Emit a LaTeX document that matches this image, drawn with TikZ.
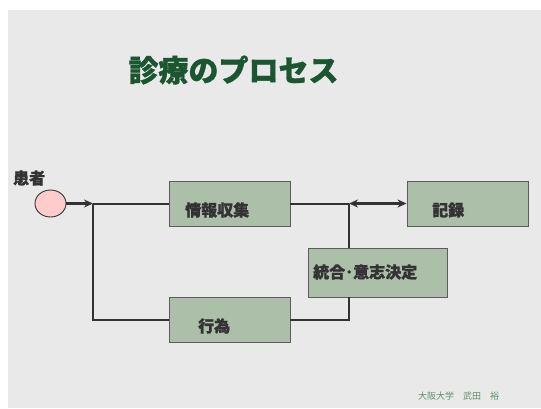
\documentclass[tikz,border=0pt]{standalone}
\usepackage{fontspec}
\newfontfamily\jp{Noto Sans CJK JP}[BoldFeatures={FakeBold=1}]
\usetikzlibrary{arrows.meta,shapes.geometric}
\definecolor{bgc}{HTML}{E9E9E9}
\definecolor{boxc}{HTML}{ABBFA9}
\definecolor{linec}{HTML}{333333}
\definecolor{titlec}{HTML}{1C5630}
\definecolor{footc}{HTML}{5E8E6C}
\definecolor{pinkc}{HTML}{FFCCCC}
\tikzset{
  procbox/.style={draw=linec!80, line width=0.9pt, fill=boxc, inner sep=0pt},
  lbl/.style={font=\jp\bfseries\fontsize{16}{18}\selectfont, text=linec, inner sep=0pt, anchor=west},
  conn/.style={draw=linec, line width=2pt},
  arr/.style={draw=linec, line width=2.6pt, -{Stealth[length=9pt,width=8pt]}},
  darr/.style={draw=linec, line width=2.6pt, {Stealth[length=9pt,width=8pt]}-{Stealth[length=9pt,width=8pt]}}
}
\begin{document}
\begin{tikzpicture}[x=1pt,y=-1pt]
\useasboundingbox (0,0) rectangle (541,408);
\fill[white] (0,0) rectangle (541,408);
\fill[bgc] (8,10) rectangle (541,408);
% title
\node[font=\jp\bfseries\fontsize{30}{34}\selectfont, text=titlec, inner sep=0pt] (title) at (233.5,70) {診療のプロセス};
% patient
\node[lbl] (ptlabel) at (13,178) {患者};
\node[draw=linec, line width=0.9pt, fill=pinkc, ellipse, minimum width=31pt, minimum height=27pt, inner sep=0pt] (pat) at (50.5,203.5) {};
% boxes
\node[procbox, minimum width=121pt, minimum height=45pt] (info) at (229.5,203.5) {};
\node[lbl] (infot) at (185,210) {情報収集};
\node[procbox, minimum width=121pt, minimum height=45pt] (rec) at (467.5,203.5) {};
\node[lbl] (rect) at (432,210) {記録};
\node[procbox, minimum width=139pt, minimum height=49pt] (dec) at (377.5,272.5) {};
\node[lbl] (dect) at (313,272) {統合･意志決定};
\node[procbox, minimum width=121pt, minimum height=45pt] (act) at (229.5,319.5) {};
\node[lbl] (actt) at (198,326) {行為};
% junctions
\coordinate (j1) at (93,203.5);
\coordinate (j2) at (349,203.5);
% connectors
\draw[arr] (pat.east) -- (j1);
\draw[conn] (j1) -- (info.west);
\draw[conn] (j1) |- (act.west);
\draw[conn] (info.east) -- (j2);
\draw[darr] (j2) -- (rec.west);
\draw[conn] (j2) -- (j2 |- dec.north);
\draw[conn] (act.east) -| (j2 |- dec.south);
% footer
\node[font=\jp\fontsize{9}{10}\selectfont, text=footc, inner sep=0pt, anchor=west] (foot) at (418,396) {大阪大学　武田　裕};
\end{tikzpicture}
\end{document}
